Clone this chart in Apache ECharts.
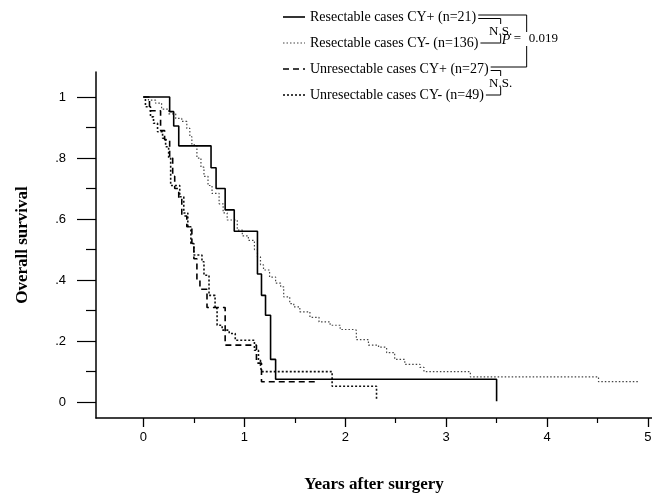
<!DOCTYPE html>
<html>
<head>
<meta charset="utf-8">
<script src="https://cdn.jsdelivr.net/npm/echarts@6/dist/echarts.min.js"></script>
<style>
html, body { margin: 0; padding: 0; background: #fff; }
#chart { width: 652px; height: 495px; }
</style>
</head>
<body>
<div id="chart"></div>
<script>
// group names (legend)
var groupNames = [
    'Resectable cases CY+ (n=21)',
    'Resectable cases CY- (n=136)',
    'Unresectable cases CY+ (n=27)',
    'Unresectable cases CY- (n=49)'
];

// Kaplan-Meier steps: [years, survival]
var resectPos = [[0,1],[0.26,0.952],[0.30,0.905],[0.35,0.84],[0.67,0.768],[0.72,0.70],[0.81,0.63],[0.90,0.56],
    [1.13,0.42],[1.17,0.35],[1.21,0.285],[1.26,0.14],[1.31,0.075],[3.5,0.003]];

var resectNeg = [[0,1],[0.05,0.99],[0.12,0.98],[0.18,0.96],[0.25,0.945],[0.32,0.93],[0.38,0.92],[0.43,0.897],
    [0.46,0.87],[0.48,0.843],[0.53,0.80],[0.57,0.77],[0.60,0.74],[0.64,0.71],[0.68,0.684],[0.75,0.65],
    [0.79,0.62],[0.83,0.597],[0.93,0.564],[0.98,0.545],[1.04,0.53],[1.10,0.50],[1.13,0.476],[1.16,0.45],
    [1.19,0.433],[1.25,0.41],[1.31,0.39],[1.36,0.378],[1.39,0.345],[1.45,0.323],[1.49,0.312],[1.55,0.296],
    [1.65,0.278],[1.74,0.263],[1.85,0.252],[1.95,0.238],[2.08,0.236],[2.11,0.205],[2.23,0.187],[2.33,0.18],
    [2.41,0.162],[2.49,0.14],[2.59,0.124],[2.74,0.114],[2.78,0.10],[3.24,0.083],[4.51,0.067],[4.91,0.067]];

var unresectPos = [[0,1],[0.06,0.955],[0.17,0.89],[0.21,0.86],[0.26,0.80],[0.29,0.74],[0.31,0.70],[0.35,0.67],
    [0.38,0.61],[0.43,0.575],[0.48,0.52],[0.50,0.47],[0.53,0.40],[0.56,0.37],[0.63,0.31],[0.81,0.187],
    [1.12,0.128],[1.17,0.067],[1.72,0.067]];

var unresectNeg = [[0,1],[0.02,0.968],[0.07,0.935],[0.10,0.914],[0.14,0.886],[0.19,0.865],[0.22,0.837],[0.25,0.80],
    [0.27,0.71],[0.36,0.673],[0.40,0.62],[0.44,0.575],[0.47,0.52],[0.50,0.482],[0.58,0.46],[0.60,0.416],
    [0.65,0.35],[0.71,0.307],[0.73,0.252],[0.78,0.236],[0.85,0.225],[0.91,0.203],[1.10,0.17],[1.14,0.138],
    [1.16,0.12],[1.17,0.10],[1.87,0.052],[2.31,0.005]];

var yMajor = [0, 0.2, 0.4, 0.6, 0.8, 1];
var yMinor = [0.1, 0.3, 0.5, 0.7, 0.9];
var xMajor = [0, 1, 2, 3, 4, 5];
var xMinor = [0.5, 1.5, 2.5, 3.5, 4.5];

var pLabel = 'P';
var pValue = '0.019';

var myChart = echarts.init(document.getElementById('chart'));

var lineStyles = [
    { color: '#000', width: 1.6, type: 'solid' },
    { color: '#444', width: 1.2, type: [1.5, 2] },
    { color: '#000', width: 1.6, type: [6, 4] },
    { color: '#111', width: 1.6, type: [2, 2] }
];
var allData = [resectPos, resectNeg, unresectPos, unresectNeg];

var serif = '"Liberation Serif", "Times New Roman", serif';
var sans = '"Liberation Sans", Arial, sans-serif';

// legend drawn by hand (brackets need it)
var ctx = document.createElement('canvas').getContext('2d');
ctx.font = '14px ' + serif;
function tw(s) { return ctx.measureText(s).width; }

var rows = [17, 43, 69, 95];
var sx0 = 283, sx1 = 305, tx = 310;
var widths = groupNames.map(tw);
var xb1 = tx + Math.max.apply(null, widths) + 12;
var xB = xb1 + 26;

var g = [];
function seg(x1, y1, x2, y2, style) {
    g.push({ type: 'line', shape: { x1: x1, y1: y1, x2: x2, y2: y2 },
        style: Object.assign({ stroke: '#000', lineWidth: 1 }, style || {}) });
}
function txt(x, y, s, extra) {
    g.push({ type: 'text', x: x, y: y,
        style: Object.assign({ text: s, font: '14px ' + serif, fill: '#000', textVerticalAlign: 'middle' }, extra || {}) });
}

groupNames.forEach(function (name, i) {
    var y = rows[i];
    var ls = lineStyles[i];
    seg(sx0, y, sx1, y, { stroke: ls.color, lineWidth: ls.width, lineDash: ls.type === 'solid' ? null : ls.type });
    txt(tx, y, name);
});

var ends = widths.map(function (w) { return tx + w + 2; });

// upper pair bracket (rows 0/1)
seg(ends[0], rows[0] - 2, xB, rows[0] - 2);
seg(ends[0], rows[0] + 1.5, xb1, rows[0] + 1.5);
seg(xb1, rows[0] + 1.5, xb1, rows[0] + 7);
seg(ends[1], rows[1], xb1, rows[1]);
seg(xb1, rows[1], xb1, rows[1] - 8);
txt(xb1, rows[0] + 15, 'N.S.', { font: '13px ' + serif, textAlign: 'center' });

// lower pair bracket (rows 2/3)
seg(ends[2], rows[2] - 2, xB, rows[2] - 2);
seg(ends[2], rows[2] + 1.5, xb1, rows[2] + 1.5);
seg(xb1, rows[2] + 1.5, xb1, rows[2] + 7);
seg(ends[3], rows[3], xb1, rows[3]);
seg(xb1, rows[3], xb1, rows[3] - 8);
txt(xb1, rows[2] + 15, 'N.S.', { font: '13px ' + serif, textAlign: 'center' });

// resectable vs unresectable
var py = rows[0] + 22;
seg(xB, rows[0] - 2, xB, py - 7);
seg(xB, py + 7, xB, rows[2] - 2);
txt(xb1 + 1, py + 1, pLabel, { font: 'italic 14px ' + serif });
txt(xb1 + 13, py, '=', { font: '13px ' + serif });
txt(xB + 2, py, pValue, { font: '13px ' + serif });

var option = {
    animation: false,
    backgroundColor: '#fff',
    grid: { left: 96, top: 72, width: 556, height: 346, outerBoundsMode: 'none', containLabel: false },
    xAxis: [{
        type: 'value', min: -0.47, max: 5.04,
        name: 'Years after surgery', nameLocation: 'middle', nameGap: 58,
        nameTextStyle: { fontFamily: serif, fontWeight: 'bold', fontSize: 17, color: '#000' },
        axisLine: { onZero: false, lineStyle: { color: '#000', width: 1.5 } },
        axisTick: { length: 9, customValues: xMajor, lineStyle: { color: '#000', width: 1.3 } },
        axisLabel: { customValues: xMajor, margin: 13, color: '#000', fontFamily: sans, fontSize: 13 },
        splitLine: { show: false }
    }, {
        type: 'value', min: -0.47, max: 5.04, position: 'bottom',
        axisLine: { show: false, onZero: false },
        axisTick: { length: 5, customValues: xMinor, lineStyle: { color: '#000', width: 1.2 } },
        axisLabel: { show: false },
        splitLine: { show: false }
    }],
    yAxis: [{
        type: 'value', min: -0.052, max: 1.082,
        name: 'Overall survival', nameLocation: 'middle', nameGap: 65, nameRotate: 90,
        nameTextStyle: { fontFamily: serif, fontWeight: 'bold', fontSize: 17, color: '#000' },
        axisLine: { show: true, onZero: false, lineStyle: { color: '#000', width: 1.5 } },
        axisTick: { show: true, length: 19, customValues: yMajor, lineStyle: { color: '#000', width: 1.2 } },
        axisLabel: {
            customValues: yMajor, margin: 30, color: '#000', fontFamily: sans, fontSize: 13,
            formatter: function (v) { return v === 0 || v === 1 ? String(v) : String(v).replace('0.', '.'); }
        },
        splitLine: { show: false }
    }, {
        type: 'value', min: -0.052, max: 1.082, position: 'left',
        axisLine: { show: false, onZero: false },
        axisTick: { show: true, length: 10, customValues: yMinor, lineStyle: { color: '#000', width: 1.2 } },
        axisLabel: { show: false },
        splitLine: { show: false }
    }],
    series: allData.map(function (d, i) {
        return {
            name: groupNames[i], type: 'line', step: 'end', data: d,
            symbol: 'none', silent: true,
            lineStyle: lineStyles[i], z: 4 - i
        };
    }),
    graphic: g
};

myChart.setOption(option);
</script>
</body>
</html>
